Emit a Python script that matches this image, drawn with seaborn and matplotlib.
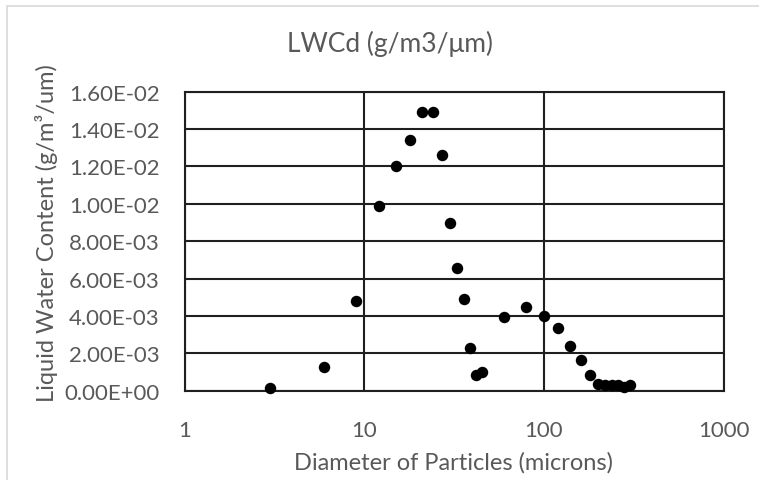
import matplotlib
matplotlib.use("Agg")
import matplotlib.pyplot as plt
import matplotlib.ticker as mticker
from matplotlib.patches import Rectangle
import seaborn as sns
import pandas as pd

# Particle diameter (microns) and liquid water content per micron
diameter = [3, 6, 9, 12, 15, 18, 21, 24, 27, 30, 33, 36, 39, 42, 45,
            60, 80, 100, 120, 140, 160, 180, 200, 220, 240, 260, 280, 300]
lwc = [0.00013, 0.00125, 0.00482, 0.0099, 0.0120, 0.01343, 0.0149, 0.0149,
       0.01261, 0.00896, 0.00655, 0.00491, 0.0023, 0.00084, 0.00098,
       0.00393, 0.00448, 0.0040, 0.00336, 0.00238, 0.00164, 0.00086,
       0.00038, 0.00033, 0.00030, 0.00033, 0.00022, 0.00028]

y_ticks = [0.0, 0.002, 0.004, 0.006, 0.008, 0.010, 0.012, 0.014, 0.016]
y_tick_labels = ["0.00E+00", "2.00E-03", "4.00E-03", "6.00E-03", "8.00E-03",
                 "1.00E-02", "1.20E-02", "1.40E-02", "1.60E-02"]
x_ticks = [1, 10, 100, 1000]
x_tick_labels = ["1", "10", "100", "1000"]

title = "LWCd (g/m3/\u03bcm)"
x_title = "Diameter of Particles (microns)"
y_title = "Liquid Water Content (g/m\u00b3/um)"

df = pd.DataFrame({"diameter": diameter, "lwc": lwc})

sns.set_theme(style="white")
plt.rcParams["font.family"] = ["Lato", "DejaVu Sans"]

text_color = "#595959"
line_color = "#1f1f1f"

W, H = 759, 481
fig = plt.figure(figsize=(W / 100, H / 100), dpi=100)
fig.patch.set_facecolor("white")

# chart area frame
fig.patches.append(Rectangle((7 / W, -0.05), 1.1, 1 - 7 / H + 0.05,
                             transform=fig.transFigure, fill=False,
                             edgecolor="#d9d9d9", linewidth=1.2))

ax = fig.add_axes([184.7 / W, 89.3 / H, 538.8 / W, 299 / H])
sns.scatterplot(data=df, x="diameter", y="lwc", ax=ax, color="black",
                s=68, edgecolor="black", linewidth=0, zorder=3, clip_on=False)

ax.set_xscale("log")
ax.set_xlim(1, 1000)
ax.set_ylim(0, 0.016)
ax.set_xticks(x_ticks)
ax.set_xticklabels(x_tick_labels)
ax.xaxis.set_minor_locator(mticker.NullLocator())
ax.set_yticks(y_ticks)
ax.set_yticklabels(y_tick_labels)

ax.grid(True, which="major", color=line_color, linewidth=1.5)
ax.set_axisbelow(True)
for side in ["left", "right", "top", "bottom"]:
    ax.spines[side].set_visible(True)
    ax.spines[side].set_color(line_color)
    ax.spines[side].set_linewidth(1.5)

ax.tick_params(axis="both", length=0, labelsize=16, colors=text_color)
ax.tick_params(axis="y", pad=18)
ax.tick_params(axis="x", pad=21)

ax.set_xlabel("")
ax.set_ylabel("")
fig.text(454 / W, 1 - 463 / H, x_title, ha="center", va="center",
         fontsize=17, color=text_color)
fig.text(47 / W, 1 - 233 / H, y_title, ha="center", va="center",
         rotation=90, fontsize=17, color=text_color)
fig.text(390 / W, 1 - 44 / H, title, ha="center", va="center",
         fontsize=19, color=text_color)

fig.savefig("out.png", dpi=100, facecolor="white")
